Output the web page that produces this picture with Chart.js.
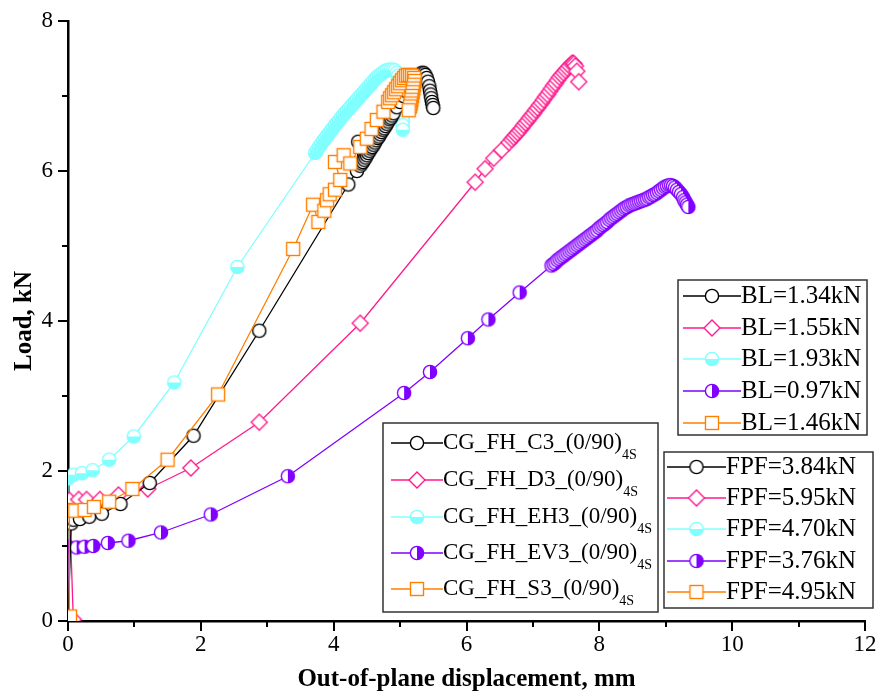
<!DOCTYPE html>
<html>
<head>
<meta charset="utf-8">
<script src="https://cdn.jsdelivr.net/npm/chart.js@4.4.1/dist/chart.umd.min.js"></script>
<style>
  html, body { margin: 0; padding: 0; background: #fff; }
  #chart { display: block; }
</style>
</head>
<body>
<canvas id="chart" width="882" height="698"></canvas>
<script>
// values (displacement in mm, load in kN)
const c3X = [0, 0.05, 0.08, 0.18, 0.32, 0.51, 0.79, 1.23, 1.89, 2.88, 4.22, 4.35, 4.37,
  4.40, 4.42, 4.44, 4.46, 4.48, 4.50, 4.52, 4.54, 4.56, 4.58, 4.60, 4.62, 4.64, 4.66, 4.68,
  4.70, 4.72, 4.74, 4.76, 4.78, 4.80, 4.82, 4.84, 4.86, 4.88, 4.90, 4.95, 5.00, 5.05, 5.10,
  5.15, 5.20, 5.24, 5.27, 5.30, 5.32, 5.34, 5.36, 5.38, 5.40, 5.42, 5.44, 5.45, 5.46, 5.47,
  5.48, 5.49, 5.50];
const c3Y = [0, 1.30, 1.35, 1.36, 1.39, 1.43, 1.56, 1.84, 2.47, 3.87, 5.82, 6.00, 6.39,
  6.07, 6.10, 6.12, 6.15, 6.18, 6.21, 6.24, 6.27, 6.30, 6.32, 6.35, 6.38, 6.41, 6.44, 6.46,
  6.49, 6.52, 6.55, 6.57, 6.60, 6.63, 6.66, 6.69, 6.71, 6.74, 6.77, 6.85, 6.92, 7.00, 7.06,
  7.12, 7.17, 7.21, 7.25, 7.28, 7.30, 7.31, 7.30, 7.28, 7.24, 7.19, 7.13, 7.07, 7.02, 6.97,
  6.92, 6.88, 6.84];

const d3X = [0.08, 0.02, 0.16, 0.28, 0.48, 0.76, 1.20, 1.85, 2.88, 4.40, 6.13, 6.28, 6.41,
  6.53, 6.64, 6.68, 6.71, 6.74, 6.77, 6.80, 6.83, 6.86, 6.89, 6.92, 6.95, 6.98, 7.01, 7.04,
  7.07, 7.10, 7.13, 7.16, 7.19, 7.22, 7.25, 7.28, 7.31, 7.34, 7.37, 7.40, 7.43, 7.46, 7.49,
  7.52, 7.55, 7.58, 7.60, 7.62, 7.64, 7.66, 7.69];
const d3Y = [0.02, 1.61, 1.62, 1.62, 1.62, 1.68, 1.76, 2.04, 2.65, 3.97, 5.85, 6.03, 6.17,
  6.28, 6.38, 6.42, 6.45, 6.48, 6.51, 6.54, 6.57, 6.61, 6.64, 6.67, 6.71, 6.74, 6.77, 6.81,
  6.84, 6.88, 6.91, 6.95, 6.99, 7.02, 7.06, 7.10, 7.14, 7.17, 7.21, 7.25, 7.28, 7.31, 7.34,
  7.37, 7.40, 7.43, 7.44, 7.43, 7.40, 7.33, 7.19];

const eh3X = [0, 0, 0.08, 0.21, 0.37, 0.62, 0.99, 1.60, 2.55, 3.72, 3.75, 3.78, 3.81, 3.84,
  3.87, 3.90, 3.93, 3.96, 3.99, 4.02, 4.05, 4.08, 4.11, 4.14, 4.17, 4.20, 4.23, 4.26, 4.29,
  4.32, 4.35, 4.38, 4.41, 4.44, 4.47, 4.50, 4.53, 4.56, 4.59, 4.62, 4.65, 4.68, 4.71, 4.74,
  4.77, 4.80, 4.83, 4.86, 4.89, 4.92, 4.95, 4.97, 4.99, 5.00, 5.01, 5.02, 5.02, 5.03, 5.03,
  5.03, 5.04, 5.04, 5.04, 5.04];
const eh3Y = [0, 1.90, 1.95, 1.97, 2.01, 2.15, 2.46, 3.18, 4.72, 6.24, 6.28, 6.32, 6.36, 6.40,
  6.43, 6.47, 6.50, 6.54, 6.57, 6.61, 6.64, 6.67, 6.71, 6.74, 6.77, 6.80, 6.83, 6.86, 6.89,
  6.92, 6.95, 6.98, 7.01, 7.04, 7.07, 7.10, 7.13, 7.16, 7.19, 7.22, 7.25, 7.27, 7.29, 7.31,
  7.33, 7.34, 7.35, 7.35, 7.35, 7.34, 7.31, 7.27, 7.21, 7.15, 7.09, 7.03, 6.97, 6.91, 6.85,
  6.79, 6.73, 6.67, 6.61, 6.55];

const ev3X = [0, 0, 0.13, 0.25, 0.38, 0.60, 0.91, 1.40, 2.15, 3.31, 5.06, 5.45, 6.02, 6.33,
  6.80, 7.28, 7.31, 7.34, 7.37, 7.40, 7.43, 7.46, 7.49, 7.52, 7.55, 7.58, 7.61, 7.64, 7.67,
  7.70, 7.73, 7.76, 7.79, 7.82, 7.85, 7.88, 7.91, 7.94, 7.97, 8.00, 8.03, 8.06, 8.09, 8.12,
  8.15, 8.18, 8.21, 8.24, 8.27, 8.30, 8.33, 8.36, 8.39, 8.42, 8.45, 8.48, 8.51, 8.54, 8.57,
  8.60, 8.63, 8.66, 8.69, 8.72, 8.75, 8.78, 8.81, 8.84, 8.87, 8.90, 8.93, 8.96, 8.99, 9.02,
  9.05, 9.08, 9.11, 9.14, 9.17, 9.20, 9.23, 9.26, 9.28, 9.30, 9.32, 9.34];
const ev3Y = [0, 0.99, 0.98, 0.99, 1.00, 1.04, 1.07, 1.18, 1.42, 1.93, 3.04, 3.32, 3.77, 4.02,
  4.38, 4.74, 4.76, 4.78, 4.81, 4.83, 4.85, 4.87, 4.89, 4.91, 4.93, 4.95, 4.97, 4.99, 5.01,
  5.03, 5.05, 5.07, 5.09, 5.11, 5.13, 5.15, 5.17, 5.19, 5.21, 5.24, 5.26, 5.28, 5.30, 5.32,
  5.35, 5.37, 5.39, 5.41, 5.43, 5.45, 5.47, 5.49, 5.51, 5.52, 5.54, 5.55, 5.56, 5.57, 5.58,
  5.59, 5.60, 5.61, 5.62, 5.63, 5.65, 5.66, 5.68, 5.69, 5.71, 5.73, 5.75, 5.77, 5.79, 5.80,
  5.81, 5.81, 5.80, 5.78, 5.75, 5.72, 5.69, 5.65, 5.61, 5.58, 5.55, 5.52];

const s3X = [0.03, 0.02, 0.11, 0.25, 0.39, 0.62, 0.97, 1.50, 2.26, 3.39, 3.69, 3.77, 3.86,
  3.90, 3.94, 4.02, 4.10, 4.02, 4.15, 4.25, 4.40, 4.50, 4.57, 4.65, 4.75, 4.82, 4.85, 4.88,
  4.91, 4.94, 4.97, 5.00, 5.03, 5.06, 5.09, 5.12, 5.15, 5.18, 5.21, 5.22, 5.21, 5.20, 5.19,
  5.18, 5.17, 5.16, 5.15, 5.13];
const s3Y = [0.06, 1.48, 1.47, 1.48, 1.52, 1.59, 1.76, 2.15, 3.02, 4.96, 5.55, 5.32, 5.47,
  5.61, 5.69, 5.75, 5.88, 6.12, 6.21, 6.10, 6.32, 6.43, 6.56, 6.68, 6.79, 6.92, 6.97, 7.01,
  7.05, 7.09, 7.13, 7.17, 7.21, 7.24, 7.27, 7.28, 7.28, 7.27, 7.24, 7.20, 7.15, 7.10, 7.05,
  7.00, 6.95, 6.90, 6.86, 6.81];

const SERIES_NAMES = ['CG_FH_C3_(0/90)', 'CG_FH_D3_(0/90)', 'CG_FH_EH3_(0/90)', 'CG_FH_EV3_(0/90)', 'CG_FH_S3_(0/90)'];
const SERIES_SUB = '4S';
const BL_LABELS = ['BL=1.34kN', 'BL=1.55kN', 'BL=1.93kN', 'BL=0.97kN', 'BL=1.46kN'];
const FPF_LABELS = ['FPF=3.84kN', 'FPF=5.95kN', 'FPF=4.70kN', 'FPF=3.76kN', 'FPF=4.95kN'];

const COLORS = ['#000000', '#ff1a8c', '#80ffff', '#8000ff', '#ff8000'];
const MARKERS = ['circle', 'diamond', 'halfBottom', 'halfRight', 'square'];
const SERIES = [[c3X, c3Y], [d3X, d3Y], [eh3X, eh3Y], [ev3X, ev3Y], [s3X, s3Y]];
const DRAW_ORDER = [2, 4, 5, 3, 1];

const FONT = '"Liberation Serif", "Times New Roman", serif';

function markerCanvas(kind, color) {
  const size = 20;
  const canvas = document.createElement('canvas');
  canvas.width = size;
  canvas.height = size;
  const g = canvas.getContext('2d');
  const m = size / 2;
  const r = 6.6;
  g.lineWidth = 1.4;
  g.strokeStyle = color;
  g.fillStyle = '#ffffff';
  if (kind === 'square') {
    g.fillRect(m - 6.5, m - 6.5, 13, 13);
    g.strokeRect(m - 6.5, m - 6.5, 13, 13);
  } else if (kind === 'diamond') {
    g.beginPath();
    g.moveTo(m, m - 8);
    g.lineTo(m + 8, m);
    g.lineTo(m, m + 8);
    g.lineTo(m - 8, m);
    g.closePath();
    g.fill();
    g.stroke();
  } else {
    g.beginPath();
    g.arc(m, m, r, 0, Math.PI * 2);
    g.fill();
    if (kind === 'halfBottom' || kind === 'halfRight') {
      const start = kind === 'halfBottom' ? 0 : -Math.PI / 2;
      g.fillStyle = color;
      g.beginPath();
      g.arc(m, m, r, start, start + Math.PI);
      g.closePath();
      g.fill();
    }
    g.beginPath();
    g.arc(m, m, r, 0, Math.PI * 2);
    g.stroke();
  }
  return canvas;
}

const markerImages = MARKERS.map((kind, i) => markerCanvas(kind, COLORS[i]));

function toPoints(xs, ys) {
  return xs.map((x, i) => ({ x, y: ys[i] }));
}

const datasets = SERIES.map(([xs, ys], i) => ({
  label: SERIES_NAMES[i],
  data: toPoints(xs, ys),
  borderColor: COLORS[i],
  borderWidth: 1.3,
  pointStyle: markerImages[i],
  pointRadius: 7,
  pointHoverRadius: 7,
  tension: 0,
  order: DRAW_ORDER[i],
}));

function drawLegendBox(ctx, box, rows, labels, opts) {
  ctx.save();
  ctx.fillStyle = '#ffffff';
  ctx.fillRect(box.x, box.y, box.w, box.h);
  ctx.strokeStyle = '#333333';
  ctx.lineWidth = 1.5;
  ctx.strokeRect(box.x, box.y, box.w, box.h);
  rows.forEach((rowY, i) => {
    ctx.strokeStyle = COLORS[i];
    ctx.lineWidth = 1.5;
    ctx.beginPath();
    ctx.moveTo(opts.lineFrom, rowY);
    ctx.lineTo(opts.lineTo, rowY);
    ctx.stroke();
    const mx = (opts.lineFrom + opts.lineTo) / 2;
    ctx.drawImage(markerImages[i], mx - 10, rowY - 10);
    ctx.fillStyle = '#000000';
    ctx.font = `${opts.size}px ${FONT}`;
    ctx.textBaseline = 'middle';
    ctx.textAlign = 'left';
    ctx.fillText(labels[i], opts.textX, rowY);
    if (opts.sub) {
      const w = ctx.measureText(labels[i]).width;
      ctx.font = `${opts.subSize}px ${FONT}`;
      ctx.fillText(opts.sub, opts.textX + w, rowY + 12);
    }
  });
  ctx.restore();
}

const legendBoxes = {
  id: 'legendBoxes',
  afterDraw(chart) {
    const ctx = chart.ctx;
    drawLegendBox(ctx, { x: 383, y: 423, w: 275, h: 189 }, [443, 480, 517, 553, 589], SERIES_NAMES,
      { lineFrom: 391, lineTo: 443, textX: 443, size: 23, sub: SERIES_SUB, subSize: 14 });
    drawLegendBox(ctx, { x: 678, y: 280, w: 189, h: 155 }, [296, 328, 359, 391, 423], BL_LABELS,
      { lineFrom: 683, lineTo: 741, textX: 741, size: 25 });
    drawLegendBox(ctx, { x: 664, y: 452, w: 209, h: 156 }, [467, 498, 529, 561, 592], FPF_LABELS,
      { lineFrom: 667, lineTo: 726, textX: 726, size: 25 });
  },
};

const axisTicks = {
  id: 'axisTicks',
  afterDraw(chart) {
    const { ctx } = chart;
    const { x, y } = chart.scales;
    ctx.save();
    ctx.strokeStyle = '#000000';
    ctx.lineWidth = 2;
    ctx.beginPath();
    for (let v = x.min; v <= x.max; v += 1) {
      const px = Math.round(x.getPixelForValue(v));
      const len = v % 2 ? 6 : 10;
      ctx.moveTo(px, y.bottom);
      ctx.lineTo(px, y.bottom + len);
    }
    for (let v = y.min; v <= y.max; v += 1) {
      const py = Math.round(y.getPixelForValue(v));
      const len = v % 2 ? 6 : 10;
      ctx.moveTo(x.left, py);
      ctx.lineTo(x.left - len, py);
    }
    ctx.stroke();
    ctx.restore();
  },
};

const tickFont = { family: FONT, size: 23 };
const titleFont = { family: FONT, size: 25, weight: 'bold' };

new Chart(document.getElementById('chart'), {
  type: 'line',
  data: { datasets },
  options: {
    responsive: false,
    animation: false,
    devicePixelRatio: 1,
    layout: { padding: { left: 0, right: 17, top: 21, bottom: 0 } },
    plugins: {
      legend: { display: false },
      tooltip: { enabled: false },
    },
    scales: {
      x: {
        type: 'linear',
        min: 0,
        max: 12,
        border: { color: '#000000', width: 2.5 },
        grid: { drawOnChartArea: false, drawTicks: false },
        ticks: {
          stepSize: 1,
          autoSkip: false,
          maxRotation: 0,
          padding: 10,
          color: '#000000',
          font: tickFont,
          callback: (v) => (v % 2 ? '' : v),
        },
        title: {
          display: true,
          text: 'Out-of-plane displacement, mm',
          color: '#000000',
          font: titleFont,
          padding: { top: 4, bottom: 3 },
        },
        afterFit(scale) {
          scale.height = 77;
          scale.paddingLeft = 0;
          scale.paddingRight = 0;
        },
      },
      y: {
        min: 0,
        max: 8,
        border: { color: '#000000', width: 2.5 },
        grid: { drawOnChartArea: false, drawTicks: false },
        ticks: {
          stepSize: 1,
          autoSkip: false,
          padding: 15,
          color: '#000000',
          font: tickFont,
          callback: (v) => (v % 2 ? '' : v),
        },
        title: {
          display: true,
          text: 'Load, kN',
          color: '#000000',
          font: titleFont,
          padding: { top: 10, bottom: 0 },
        },
        afterFit(scale) {
          scale.width = 68;
          scale.paddingTop = 0;
          scale.paddingBottom = 0;
        },
      },
    },
  },
  plugins: [axisTicks, legendBoxes],
});
</script>
</body>
</html>
